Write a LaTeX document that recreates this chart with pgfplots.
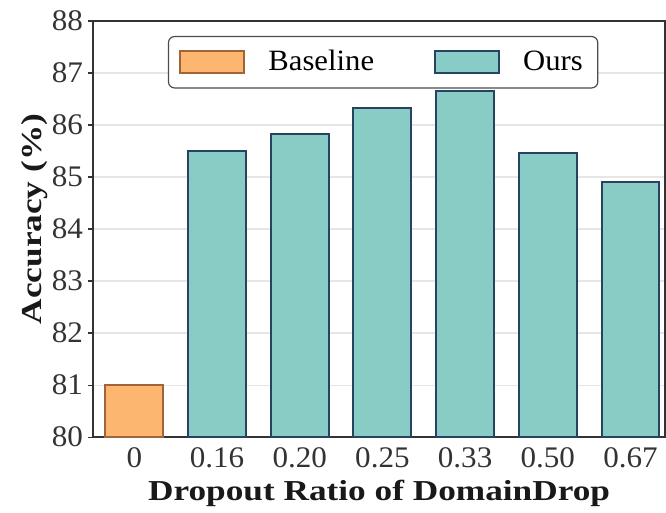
\documentclass[border=0pt]{standalone}
\usepackage{fontspec}
\setmainfont[FakeStretch=1.04]{Liberation Serif}
\newfontfamily\labelfont[FakeStretch=1.22]{Liberation Serif}
\usepackage{pgfplots}
\pgfplotsset{compat=1.18}
\definecolor{basefill}{RGB}{253,182,112}
\definecolor{baseedge}{RGB}{160,100,58}
\definecolor{oursfill}{RGB}{137,204,197}
\definecolor{oursedge}{RGB}{38,68,98}
\definecolor{gridgray}{RGB}{230,230,230}
\begin{document}
\begin{tikzpicture}
\begin{axis}[
    width=286bp, height=208bp,
    scale only axis,
    ybar, bar width=0.7, bar shift=0pt,
    xmin=-0.5, xmax=6.42,
    ymin=80, ymax=88,
    ytick={80,81,...,88},
    xtick={0,...,6},
    xticklabels={0,0.16,0.20,0.25,0.33,0.50,0.67},
    ymajorgrids, grid style={gridgray, line width=0.6pt},
    axis line style={black!80, line width=0.8pt},
    xtick style={draw=none},
    ytick style={black!80, line width=0.6pt},
    tick align=outside, major tick length=2.5pt,
    tick pos=left,
    /pgf/number format/assume math mode=true,
    tick label style={font=\fontsize{15}{17}\selectfont, text=black!80},
    yticklabel style={xshift=1pt},
    xticklabel style={yshift=1pt},
    ylabel={\textbf{Accuracy (\%)}},
    xlabel={\textbf{Dropout Ratio of DomainDrop}},
    label style={font=\labelfont\fontsize{14.5}{17}\selectfont, text=black!90},
    ylabel style={at={(axis description cs:-0.1014,0.524)}, anchor=center},
    xlabel style={at={(axis description cs:0.5,-0.1514)}, anchor=base},
    legend columns=2,
    legend style={at={(0.507,0.964)}, anchor=north, rounded corners=3pt,
        draw=black!70, line width=0.6pt, font=\fontsize{14.8}{17}\selectfont,
        /tikz/every even column/.append style={column sep=28bp},
        inner xsep=5.5pt, inner ysep=5pt},
    legend image code/.code={\draw[#1, sharp corners, line width=1pt] (0bp,-5.5bp) rectangle (32bp,5.5bp);},
]
\addplot[fill=basefill, draw=baseedge, line width=1pt] coordinates {(0,81.0)};
\addlegendentry{\hspace{9.5bp}Baseline}
\addplot[fill=oursfill, draw=oursedge, line width=1pt] coordinates {
    (1,85.50) (2,85.83) (3,86.33) (4,86.65) (5,85.46) (6,84.90)};
\addlegendentry{\hspace{9.5bp}Ours}
\path (rel axis cs:0,1) ++(-46.5bp,10.5bp) coordinate (tl);
\path (rel axis cs:0,0) ++(-46.5bp,-35.5bp) coordinate (bl);
\end{axis}
\useasboundingbox (tl) rectangle (bl);
\end{tikzpicture}
\end{document}
